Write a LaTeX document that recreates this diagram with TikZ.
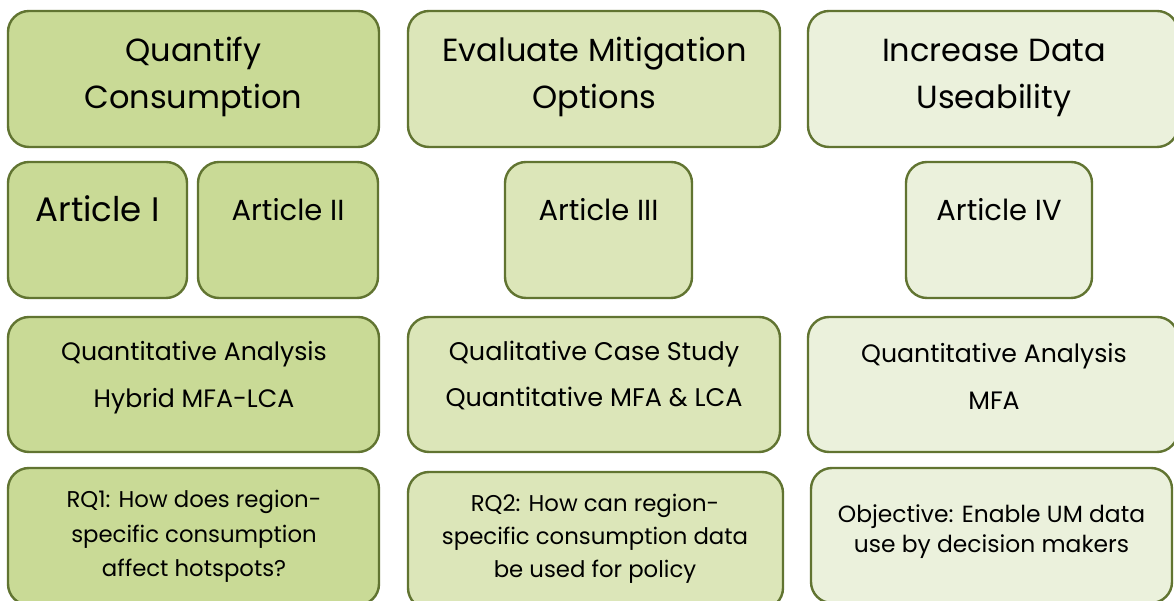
\documentclass[tikz,border=0pt]{standalone}
\usepackage{fontspec}
\setmainfont{Poppins}
\definecolor{edge}{HTML}{617431}
\definecolor{fillA}{HTML}{C9DA96}
\definecolor{fillB}{HTML}{DCE6B9}
\definecolor{fillC}{HTML}{EBF1DC}
\tikzset{
  card/.style={draw=edge, line width=2.4pt, rounded corners=21pt,
    inner sep=0pt, outer sep=0pt},
  lab/.style={inner sep=0pt, anchor=base, text=black},
}
% #1 name, #2 font size, #3 x centre, #4 first baseline (from top),
% #5 line skip, #6 lines
\newcommand\cardtext[6]{%
  \foreach \ln [count=\i] in {#6} {%
    \node[lab, font=\fontsize{#2}{#2}\selectfont] (#1-\i)
      at (#3, {601-#4-(\i-1)*#5}) {\ln};
  }%
}
% #1 name, #2 fill, #3 left, #4 top, #5 right, #6 bottom (all from top-left)
\newcommand\card[6]{%
  \node[card, fill=#2, minimum width={(#5-#3)*1pt}, minimum height={(#6-#4)*1pt}]
    (#1) at ({(#3+#5)/2}, {601-(#4+#6)/2}) {};
}
\begin{document}
\begin{tikzpicture}[x=1pt, y=1pt]
\useasboundingbox (0,0) rectangle (1174,601);
\clip (0,0) rectangle (1174,601);
\fill[white] (0,0) rectangle (1174,601);

% goals
\card{goalA}{fillA}{8}{11}{379}{147}
\card{goalB}{fillB}{408}{11}{780}{147}
\card{goalC}{fillC}{808}{11}{1178}{147}
\cardtext{tgoalA}{32}{193.5}{62}{47}{Quantify,Consumption}
\cardtext{tgoalB}{32}{594.5}{62}{47}{Evaluate Mitigation,Options}
\cardtext{tgoalC}{32}{994}{62}{47}{Increase Data,Useability}

% articles
\card{artI}{fillA}{8}{162}{187}{298}
\card{artII}{fillA}{198}{162}{378}{298}
\card{artIII}{fillB}{505}{162}{692}{298}
\card{artIV}{fillC}{906}{162}{1092}{298}
\cardtext{tartI}{34}{97.5}{222}{0}{Article I}
\cardtext{tartII}{29}{288}{221}{0}{Article II}
\cardtext{tartIII}{29}{598.5}{221}{0}{Article III}
\cardtext{tartIV}{29}{999}{221}{0}{Article IV}

% methods
\card{metA}{fillA}{8}{317}{379}{452}
\card{metB}{fillB}{408}{317}{780}{452}
\card{metC}{fillC}{808}{317}{1178}{452}
\cardtext{tmetA}{25.2}{194}{361}{47}{Quantitative Analysis,Hybrid MFA-LCA}
\cardtext{tmetB}{25.5}{594}{361}{46}{Qualitative Case Study,Quantitative MFA \& LCA}
\cardtext{tmetC}{25.2}{994}{363}{47}{Quantitative Analysis,MFA}

% questions
\card{rqA}{fillA}{8}{468}{379}{605}
\card{rqB}{fillB}{408}{472}{783}{609}
\card{rqC}{fillC}{811}{468}{1172}{603}
\cardtext{trqA}{22.8}{194}{508}{34.5}{RQ1: How does region-,specific consumption,affect hotspots?}
\cardtext{trqB}{22.8}{595}{512}{33}{RQ2: How can region-,specific consumption data,be used for policy}
\cardtext{trqC}{23.4}{991.5}{523}{29.5}{Objective: Enable UM data,use by decision makers}
\end{tikzpicture}
\end{document}
